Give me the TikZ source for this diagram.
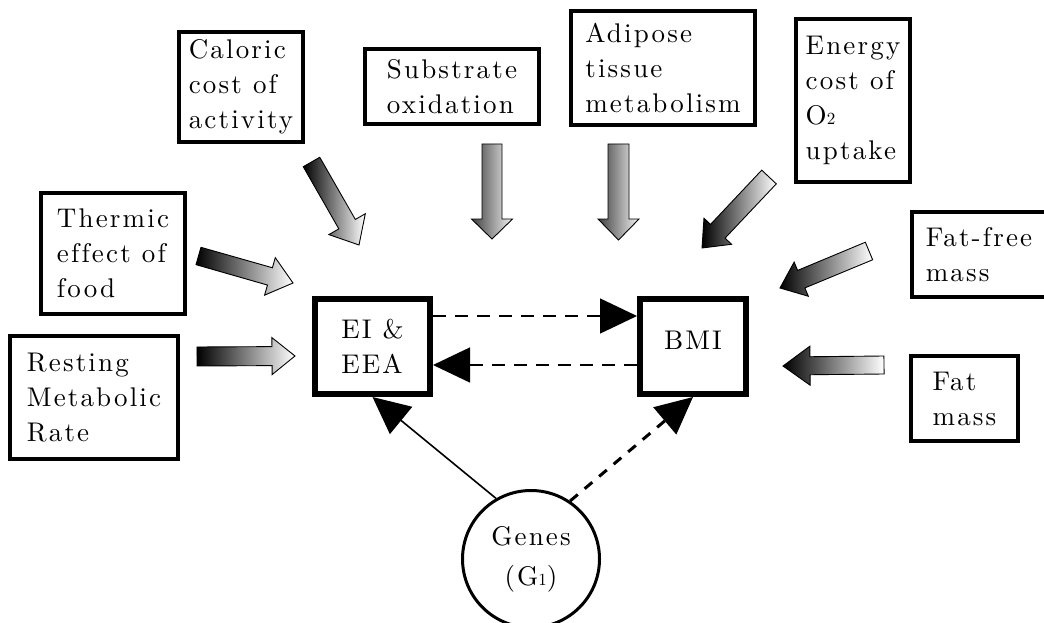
\documentclass[tikz,border=0pt]{standalone}
\usepackage{fontspec}
\newfontfamily\labfont{lmroman10-regular.otf}[LetterSpace=8,Ligatures=NoCommon]
\usetikzlibrary{arrows.meta,calc}
\newcommand\smalldigit[1]{{\fontsize{17}{17}\selectfont #1}}
\newcommand\gradarrow[6][]{%
  \coordinate (ga-t) at (#2);
  \coordinate (ga-p) at (#3);
  \coordinate (ga-b) at ($(ga-p)!#6!(ga-t)$);
  \draw[garrow,#1] ($(ga-t)!#4!90:(ga-p)$) -- ($(ga-b)!#4!90:(ga-p)$) -- ($(ga-b)!#5!90:(ga-p)$)
     -- (ga-p) -- ($(ga-b)!#5!-90:(ga-p)$) -- ($(ga-b)!#4!-90:(ga-p)$) -- ($(ga-t)!#4!-90:(ga-p)$) -- cycle;
}
\tikzset{
  lab/.style={font=\labfont\fontsize{27}{35}\selectfont, align=left},
  tbox/.style={draw, line width=4pt, inner xsep=8pt, inner ysep=0pt, lab},
  cbox/.style={draw, line width=6pt, inner sep=0pt, lab},
  garrow/.style={draw=black, line width=0.9pt, left color=black, right color=white},
  vgrad/.style={left color=black!75, right color=black!5},
  bigtip/.style={-{Triangle[length=37pt,width=35pt]}},
  dline/.style={line width=1.4pt, dash pattern=on 13pt off 9pt, bigtip},
  gline/.style={line width=3pt, dash pattern=on 10pt off 9pt, bigtip},
  sline/.style={line width=1.6pt, bigtip}
}
\begin{document}
\begin{tikzpicture}[x=1pt,y=-1pt]
\useasboundingbox (0,0) rectangle (1044,623);
% text boxes
\node[tbox, minimum width=124pt, minimum height=110pt] (caloric) at (241,87) {Caloric\\cost of\\activity};
\node[tbox, minimum width=174pt, minimum height=75pt] (substrate) at (452,86.5) {Substrate\\oxidation};
\node[tbox, minimum width=184pt, minimum height=114pt] (adipose) at (663,68) {Adipose\\tissue\\metabolism};
\node[tbox, minimum width=114pt, minimum height=163pt] (energy) at (853,100.5) {Energy\\cost of\\O\smalldigit{2}\\uptake};
\node[tbox, minimum width=144pt, minimum height=121pt] (thermic) at (113,253.5) {Thermic\\effect of\\food};
\node[tbox, minimum width=168pt, minimum height=123pt] (resting) at (94,397.5) {Resting\\Metabolic\\Rate};
\node[tbox, minimum width=134pt, minimum height=85pt] (fatfree) at (979,254.5) {Fat-free\\mass};
\node[tbox, minimum width=107pt, minimum height=85pt] (fatmass) at (964.5,398.5) {Fat\\mass};
% central boxes
\node[cbox, minimum width=115pt, minimum height=95pt] (ei) at (372.5,346.5) {EI \&\\EEA};
\node[cbox, minimum width=106pt, minimum height=95pt, text depth=12pt] (bmi) at (693,346.5) {BMI};
\node[circle, draw, line width=3pt, minimum size=137pt, inner sep=0pt, lab,
      font=\labfont\fontsize{27}{40}\selectfont, align=center] (genes) at (531,559) {Genes\\(G\smalldigit{1})};
% gradient block arrows
\gradarrow{311.5,162}{359,245}{9.5pt}{21pt}{24pt}
\gradarrow[vgrad]{492,144}{492,239}{10pt}{20.5pt}{20pt}
\gradarrow[vgrad]{618.5,144}{618.5,240}{10.5pt}{20.5pt}{21pt}
\gradarrow{769,177}{702,248}{10pt}{19pt}{23pt}
\gradarrow{869,251}{780,288}{9.5pt}{18.5pt}{23pt}
\gradarrow{884,365}{783,366}{9pt}{19.5pt}{27pt}
\gradarrow{198.5,256}{293,283}{9pt}{19.5pt}{24pt}
\gradarrow{197,356.5}{295,356}{9.5pt}{18.5pt}{23pt}
% connectors
\draw[dline] ([yshift=30.5pt]ei.east) -- ([yshift=30.5pt]bmi.west);
\draw[dline] ([yshift=-18.5pt]bmi.west) -- ([yshift=-18.5pt]ei.east);
\draw[sline] (genes.120.5) -- (ei.south);
\draw[gline] (genes.56) -- (bmi.south);
\end{tikzpicture}
\end{document}
